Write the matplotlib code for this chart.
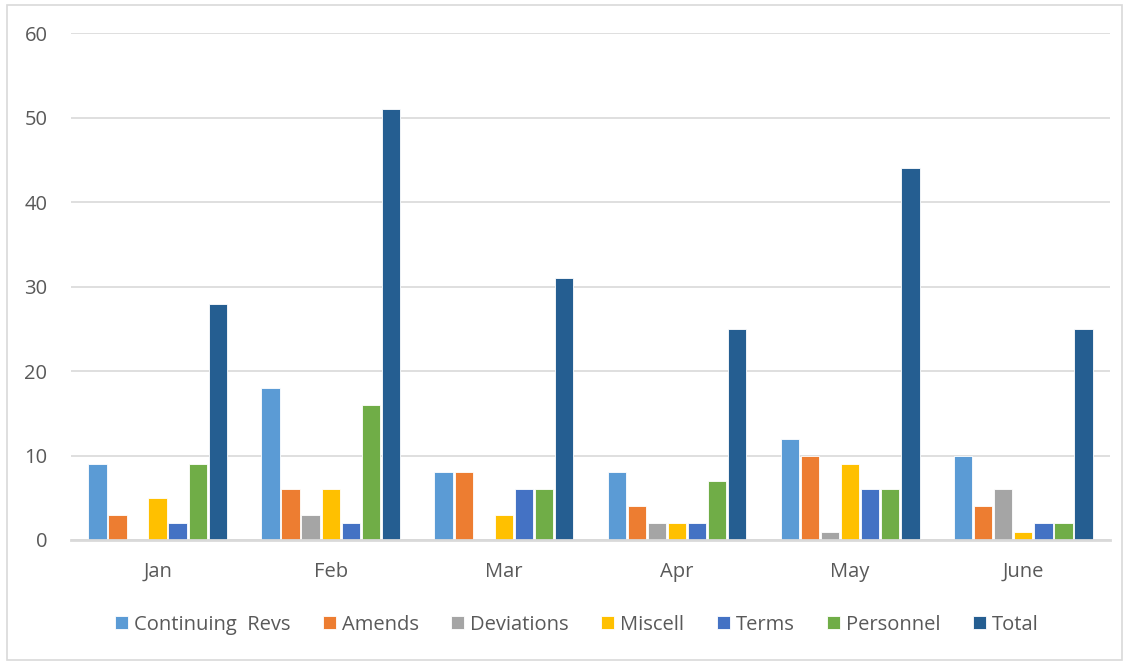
import numpy as np
import matplotlib.pyplot as plt
from matplotlib.patches import Rectangle

# data
months = ['Jan', 'Feb', 'Mar', 'Apr', 'May', 'June']
series_names = ['Continuing  Revs', 'Amends', 'Deviations', 'Miscell', 'Terms', 'Personnel', 'Total']
continuing_revs = [9, 18, 8, 8, 12, 10]
amends = [3, 6, 8, 4, 10, 4]
deviations = [0, 3, 0, 2, 1, 6]
miscell = [5, 6, 3, 2, 9, 1]
terms = [2, 2, 6, 2, 6, 2]
personnel = [9, 16, 6, 7, 6, 2]
total = [28, 51, 31, 25, 44, 25]

colors = ['#5B9BD5', '#ED7D31', '#A5A5A5', '#FFC000', '#4472C4', '#70AD47', '#255E91']
all_series = [continuing_revs, amends, deviations, miscell, terms, personnel, total]

plt.rcParams['font.family'] = ['Open Sans', 'DejaVu Sans']
text_color = '#595959'

fig = plt.figure(figsize=(11.29, 6.65), dpi=100)
ax = fig.add_axes([0.0629, 0.188, 0.9201, 0.762])

x = np.arange(len(months))
pitch = 0.116
width = 0.106
for i, (name, vals) in enumerate(zip(series_names, all_series)):
    offset = (i - 3) * pitch
    ax.bar(x + offset, vals, width, color=colors[i], label=name,
           edgecolor='white', linewidth=0.6, zorder=3)

ax.set_xlim(-0.5, len(months) - 0.5)
ax.set_ylim(0, 60)
ax.set_yticks(range(0, 61, 10))
ax.set_xticks(x)
ax.set_xticklabels(months)
ax.grid(axis='y', color='#D9D9D9', linewidth=1.2, zorder=0)
for s in ['top', 'right', 'left']:
    ax.spines[s].set_visible(False)
ax.spines['bottom'].set_color('#D9D9D9')
ax.spines['bottom'].set_linewidth(2)
ax.spines['bottom'].set_zorder(4)
ax.tick_params(axis='both', length=0, labelsize=14.5, labelcolor=text_color)
ax.tick_params(axis='x', pad=16)
ax.tick_params(axis='y', pad=17)

leg = ax.legend(loc='center', bbox_to_anchor=(0.487, -0.167), ncol=7, frameon=False,
                fontsize=14.5, handlelength=0.65, handleheight=0.65,
                handletextpad=0.3, columnspacing=1.6)
for t in leg.get_texts():
    t.set_color(text_color)

# chart border
fig.patches.append(Rectangle((0.006, 0.008), 0.988, 0.985, transform=fig.transFigure,
                             fill=False, edgecolor='#D9D9D9', linewidth=1.2))

fig.savefig('out.png', dpi=100)
